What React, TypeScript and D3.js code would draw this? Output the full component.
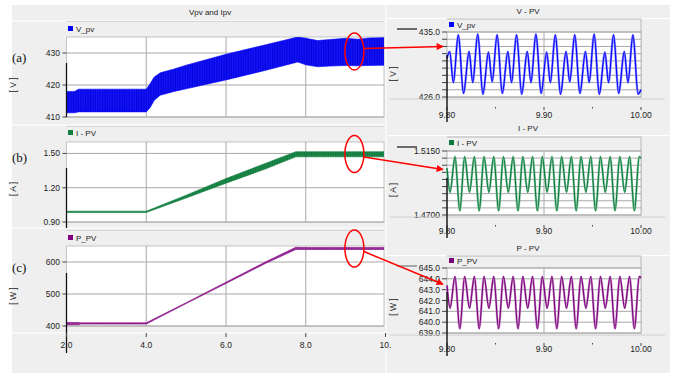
import React, { useEffect, useRef } from "react";
import * as d3 from "d3";

// ---- full run, 2 s .. 10 s ----
const leftXTicks = [2, 4, 6, 8, 10];
const leftXLabels = ["2.0", "4.0", "6.0", "8.0", "10."];

// ripple is too fast at this scale, so each trace shows as a band (upper/lower envelope)
const vTime = [2.0, 2.2, 2.3, 4.0, 4.1, 4.2, 4.35, 4.7, 5.0, 6.0, 7.0, 7.8, 8.0, 8.3, 8.6, 9.0, 9.3, 9.6, 10.0];
const vUpper = [418.0, 418.0, 418.7, 418.7, 420.5, 422.5, 423.8, 425.0, 426.2, 429.6, 432.6, 435.0, 434.6, 433.9, 434.2, 434.6, 434.3, 434.7, 434.8];
const vLower = [411.3, 411.3, 411.6, 411.6, 413.0, 415.2, 416.8, 418.0, 418.8, 421.6, 424.6, 427.2, 426.3, 425.7, 425.9, 426.1, 426.0, 426.1, 426.2];
const vTicks = [410, 420, 430];

const iTime = [2.0, 4.0, 5.0, 6.0, 7.0, 7.75, 8.0, 9.0, 10.0];
const iUpper = [0.995, 0.995, 1.135, 1.28, 1.415, 1.515, 1.515, 1.515, 1.515];
const iLower = [0.983, 0.983, 1.11, 1.24, 1.365, 1.47, 1.47, 1.47, 1.47];
const iTicks = [0.9, 1.2, 1.5];

const pTime = [2.0, 2.3, 2.35, 4.0, 5.0, 6.0, 7.0, 7.75, 8.0, 9.0, 10.0];
const pUpper = [411, 411, 410, 410, 473, 537, 601, 646, 645, 645, 645];
const pLower = [404, 404, 406, 406, 470, 533, 596, 639, 639, 639, 639];
const pTicks = [400, 500, 600];

// ---- zoom 9.80 s .. 10.00 s ----
const zoomXTicks = [9.8, 9.9, 10.0];
const zoomXLabels = ["9.80", "9.90", "10.00"];
const zoomMinor = [9.85, 9.95];

const vzTime = [9.8, 9.8028, 9.8065, 9.8117, 9.817, 9.8228, 9.8265, 9.8317, 9.837, 9.8428, 9.8465, 9.8517, 9.857,
  9.8628, 9.8665, 9.8717, 9.877, 9.8828, 9.8865, 9.8917, 9.897, 9.9028, 9.9065, 9.9117, 9.917, 9.9228, 9.9265,
  9.9317, 9.937, 9.9428, 9.9465, 9.9517, 9.957, 9.9628, 9.9665, 9.9717, 9.977, 9.9828, 9.9865, 9.9917, 9.997, 10.0];
const vzValue = [431.4, 432.3, 428.0, 434.6, 426.5, 432.3, 428.0, 434.7, 426.4, 432.2, 428.1, 434.6, 426.5,
  432.3, 428.0, 434.6, 426.4, 432.3, 428.0, 434.7, 426.5, 432.2, 428.0, 434.6, 426.4, 432.3, 428.1,
  434.6, 426.5, 432.3, 428.0, 434.7, 426.4, 432.2, 428.0, 434.6, 426.5, 432.3, 428.0, 434.6, 426.4, 427.0];
const vzTicks = [426, 427, 428, 429, 430, 431, 432, 433, 434, 435];
const vzLabelled = [426, 435];

const izTime = [9.8, 9.8032, 9.8082, 9.8132, 9.8182, 9.8232, 9.8282, 9.8332, 9.8382, 9.8432, 9.8482, 9.8532, 9.8582,
  9.8632, 9.8682, 9.8732, 9.8782, 9.8832, 9.8882, 9.8932, 9.8982, 9.9032, 9.9082, 9.9132, 9.9182, 9.9232, 9.9282,
  9.9332, 9.9382, 9.9432, 9.9482, 9.9532, 9.9582, 9.9632, 9.9682, 9.9732, 9.9782, 9.9832, 9.9882, 9.9932, 9.9982, 10.0];
const izValue = [1.503, 1.486, 1.511, 1.473, 1.511, 1.486, 1.511, 1.473, 1.511, 1.486, 1.511, 1.473, 1.511,
  1.486, 1.511, 1.473, 1.511, 1.486, 1.511, 1.473, 1.511, 1.486, 1.511, 1.473, 1.511, 1.486, 1.511,
  1.473, 1.511, 1.486, 1.511, 1.473, 1.511, 1.486, 1.511, 1.473, 1.511, 1.486, 1.511, 1.473, 1.511, 1.510];
const izTicks = [1.47, 1.475, 1.48, 1.485, 1.49, 1.495, 1.5, 1.505, 1.51, 1.515];
const izLabelled = [1.47, 1.515];

const pzTime = izTime;
const pzValue = [643.4, 641.3, 644.2, 639.4, 644.2, 641.3, 644.2, 639.4, 644.2, 641.3, 644.2, 639.4, 644.2,
  641.3, 644.2, 639.4, 644.2, 641.3, 644.2, 639.4, 644.2, 641.3, 644.2, 639.4, 644.2, 641.3, 644.2,
  639.4, 644.2, 641.3, 644.2, 639.4, 644.2, 641.3, 644.2, 639.4, 644.2, 641.3, 644.2, 639.4, 644.2, 644.1];
const pzTicks = [639, 640, 641, 642, 643, 644, 645];
const pzLabelled = [639, 640, 641, 642, 643, 644, 645];

const FONT = "'Liberation Sans', Arial, sans-serif";
const LX0 = 66.5, LX1 = 385.5, LCLIP = 384;
const RX0 = 447, RX1 = 641;

function drawLeft(svg: any, p: any) {
  const x = d3.scaleLinear().domain([2, 10]).range([LX0, LX1]);
  const y = d3.scaleLinear().domain(p.domain).range([p.bottom, p.top]);
  const g = svg.append("g");

  g.append("line").attr("x1", LX0).attr("x2", LCLIP).attr("y1", p.top - 15.5).attr("y2", p.top - 15.5).attr("stroke", "#d6d6d6");
  g.append("rect").attr("x", 68).attr("y", p.legendY - 3).attr("width", 5).attr("height", 5).attr("fill", p.color);
  g.append("text").attr("x", 76).attr("y", p.legendY + 3).attr("font-size", 8).attr("font-family", FONT).attr("fill", "#222").text(p.legend);

  g.append("rect").attr("x", LX0).attr("y", p.top).attr("width", LCLIP - LX0).attr("height", p.bottom - p.top)
    .attr("fill", "#fff").attr("stroke", "#c4c4c4");

  // grid
  g.selectAll(".vg").data(leftXTicks.slice(1, 4)).enter().append("line")
    .attr("x1", (d: number) => x(d)).attr("x2", (d: number) => x(d)).attr("y1", p.top).attr("y2", p.bottom)
    .attr("stroke", "#a8a8a8");
  g.selectAll(".hg").data(p.ticks).enter().append("line")
    .attr("x1", LX0).attr("x2", LCLIP).attr("y1", (d: number) => y(d)).attr("y2", (d: number) => y(d))
    .attr("stroke", "#a8a8a8");

  // y ticks
  g.selectAll(".yt").data(p.ticks).enter().append("line")
    .attr("x1", LX0 - 4).attr("x2", LX0).attr("y1", (d: number) => y(d)).attr("y2", (d: number) => y(d)).attr("stroke", "#444");
  g.selectAll(".yl").data(p.ticks).enter().append("text")
    .attr("x", 60).attr("y", (d: number) => y(d) + 3).attr("text-anchor", "end")
    .attr("font-size", 8.5).attr("font-family", FONT).attr("fill", "#222").text((d: number) => p.fmt(d));

  // band
  const clipId = "clip" + p.id;
  g.append("clipPath").attr("id", clipId).append("rect").attr("x", LX0).attr("y", p.top).attr("width", LCLIP - LX0).attr("height", p.bottom - p.top);
  const area = d3.area<number>().x((d, i) => x(p.time[i])).y0((d, i) => y(p.lower[i])).y1((d) => y(d));
  g.append("path").attr("d", area(p.upper)).attr("fill", `url(#pat${p.id})`).attr("stroke", p.color).attr("stroke-width", 0.6).attr("clip-path", `url(#${clipId})`);

  // axis stub
  g.append("line").attr("x1", LX0).attr("x2", LX0).attr("y1", p.stub[0]).attr("y2", p.stub[1]).attr("stroke", "#111").attr("stroke-width", 1.3);

  // tag and unit
  g.append("text").attr("x", 12).attr("y", p.tagY).attr("font-size", 13).attr("font-family", "'Liberation Serif', 'Times New Roman', serif").attr("fill", "#111").text(p.tag);
  g.append("text").attr("transform", `translate(16,${p.unitY}) rotate(-90)`).attr("text-anchor", "middle")
    .attr("font-size", 8.5).attr("font-family", FONT).attr("fill", "#222").text(p.unit);
  return { x, y };
}

function drawRight(svg: any, p: any) {
  const x = d3.scaleLinear().domain([9.8, 10.0]).range([RX0, RX1]);
  const y = d3.scaleLinear().domain(p.domain).range([p.bottom, p.top]);
  const g = svg.append("g");

  g.append("text").attr("x", 528).attr("y", p.titleY + 3).attr("text-anchor", "middle").attr("font-size", 8).attr("font-family", FONT).attr("fill", "#222").text(p.title);
  g.append("line").attr("x1", 387).attr("x2", 670).attr("y1", p.titleY + 7.5).attr("y2", p.titleY + 7.5).attr("stroke", "#fff");

  // legend frame
  g.append("path").attr("d", `M${RX0},${p.frameTop}H${RX1}V${p.bottom}`).attr("fill", "none").attr("stroke", "#b8b8b8");
  g.append("rect").attr("x", 449).attr("y", p.legendY - 3).attr("width", 5).attr("height", 5).attr("fill", p.color);
  g.append("text").attr("x", 457).attr("y", p.legendY + 3).attr("font-size", 8).attr("font-family", FONT).attr("fill", "#222").text(p.legend);

  g.append("rect").attr("x", RX0).attr("y", p.top).attr("width", RX1 - RX0).attr("height", p.bottom - p.top)
    .attr("fill", "#fff").attr("stroke", "#b8b8b8");

  g.selectAll(".hg").data(p.ticks).enter().append("line")
    .attr("x1", RX0).attr("x2", RX1).attr("y1", (d: number) => y(d)).attr("y2", (d: number) => y(d)).attr("stroke", "#a8a8a8");
  g.append("line").attr("x1", x(9.9)).attr("x2", x(9.9)).attr("y1", p.top).attr("y2", p.bottom).attr("stroke", "#a8a8a8");
  g.selectAll(".yt").data(p.ticks).enter().append("line")
    .attr("x1", RX0 - 5).attr("x2", RX0).attr("y1", (d: number) => y(d)).attr("y2", (d: number) => y(d)).attr("stroke", "#444");
  g.selectAll(".yl").data(p.labelled).enter().append("text")
    .attr("x", 440).attr("y", (d: number) => y(d) + 3).attr("text-anchor", "end")
    .attr("font-size", 8.5).attr("font-family", FONT).attr("fill", "#222").text((d: number) => p.fmt(d));

  const line = d3.line<number>().x((d, i) => x(p.time[i])).y((d) => y(d)).curve(d3.curveMonotoneX);
  g.append("path").attr("d", line(p.value)).attr("fill", "none").attr("stroke", p.light).attr("stroke-width", 2.2);
  g.append("path").attr("d", line(p.value)).attr("fill", "none").attr("stroke", p.color).attr("stroke-width", 1.1);

  // x axis
  const axY = p.bottom + 10;
  g.append("line").attr("x1", 390).attr("x2", 665).attr("y1", p.bottom + 2).attr("y2", p.bottom + 2).attr("stroke", "#d0d0d0");
  g.selectAll(".xt").data(zoomXTicks).enter().append("line")
    .attr("x1", (d: number) => x(d)).attr("x2", (d: number) => x(d)).attr("y1", axY).attr("y2", axY + 3).attr("stroke", "#444");
  g.selectAll(".xm").data(zoomMinor).enter().append("line")
    .attr("x1", (d: number) => x(d)).attr("x2", (d: number) => x(d)).attr("y1", axY).attr("y2", axY + 1.5).attr("stroke", "#444");
  g.selectAll(".xl").data(zoomXTicks).enter().append("text")
    .attr("x", (d: number) => x(d)).attr("y", p.xLabelY).attr("text-anchor", "middle")
    .attr("font-size", 8.5).attr("font-family", FONT).attr("fill", "#222").text((d: number, i: number) => zoomXLabels[i]);

  // stubs
  g.append("line").attr("x1", 397).attr("x2", 417).attr("y1", p.hStub).attr("y2", p.hStub).attr("stroke", p.hStubColor).attr("stroke-width", 1.2);
  g.append("line").attr("x1", RX0).attr("x2", RX0).attr("y1", p.vStub[0]).attr("y2", p.vStub[1]).attr("stroke", "#111").attr("stroke-width", 1.4);

  g.append("text").attr("transform", `translate(396,${p.unitY}) rotate(-90)`).attr("text-anchor", "middle")
    .attr("font-size", 8.5).attr("font-family", FONT).attr("fill", "#222").text(p.unit);
  return { x, y };
}

export default function App() {
  const ref = useRef<SVGSVGElement>(null);

  useEffect(() => {
    const svg = d3.select(ref.current);
    svg.selectAll("*").remove();

    const defs = svg.append("defs");
    const pats = [["a", "#1414ff", "#0000c8"], ["b", "#1f8f4e", "#0b6a34"], ["c", "#8a1a8a", "#b050b0"]];
    pats.forEach(([id, fill, stripe]) => {
      const pt = defs.append("pattern").attr("id", "pat" + id).attr("patternUnits", "userSpaceOnUse").attr("width", 1.7).attr("height", 10);
      pt.append("rect").attr("width", 1.7).attr("height", 10).attr("fill", fill);
      pt.append("rect").attr("width", 0.6).attr("height", 10).attr("fill", stripe);
    });
    const marker = defs.append("marker").attr("id", "arrow").attr("viewBox", "0 0 10 10").attr("refX", 9).attr("refY", 5)
      .attr("markerWidth", 9).attr("markerHeight", 7).attr("markerUnits", "userSpaceOnUse").attr("orient", "auto");
    marker.append("path").attr("d", "M0,0L10,5L0,10z").attr("fill", "#ff0000");

    // backgrounds
    svg.append("rect").attr("width", 675).attr("height", 373).attr("fill", "#fff");
    svg.append("rect").attr("x", 12).attr("y", 5).attr("width", 658).attr("height", 368).attr("fill", "#efefef");
    svg.append("line").attr("x1", 386).attr("x2", 386).attr("y1", 5).attr("y2", 373).attr("stroke", "#fff");
    [21, 125, 228, 333].forEach((yy) => svg.append("line").attr("x1", 12).attr("x2", 386).attr("y1", yy).attr("y2", yy).attr("stroke", "#fff"));
    svg.append("text").attr("x", 210).attr("y", 15).attr("text-anchor", "middle").attr("font-size", 8).attr("font-family", FONT).attr("fill", "#222").text("Vpv and Ipv");

    const A = drawLeft(svg, { id: "a", domain: [410, 435], top: 37, bottom: 117, legendY: 29, color: "#0000ff", legend: "V_pv",
      ticks: vTicks, fmt: (d: number) => d3.format("d")(d), time: vTime, upper: vUpper, lower: vLower, stub: [63, 117],
      tag: "(a)", tagY: 62, unit: "[ V ]", unitY: 85 });
    const B = drawLeft(svg, { id: "b", domain: [0.9, 1.6], top: 142, bottom: 222, legendY: 133, color: "#138043", legend: "I - PV",
      ticks: iTicks, fmt: d3.format(".2f"), time: iTime, upper: iUpper, lower: iLower, stub: [168, 228],
      tag: "(b)", tagY: 162, unit: "[ A ]", unitY: 189 });
    const C = drawLeft(svg, { id: "c", domain: [400, 650], top: 246, bottom: 326, legendY: 238, color: "#800080", legend: "P_PV",
      ticks: pTicks, fmt: d3.format("d"), time: pTime, upper: pUpper, lower: pLower, stub: [273, 353],
      tag: "(c)", tagY: 272, unit: "[ W ]", unitY: 296 });

    // left x axis
    svg.selectAll(".lxt").data(leftXTicks).enter().append("line")
      .attr("x1", (d: number) => A.x(d)).attr("x2", (d: number) => A.x(d)).attr("y1", 333).attr("y2", 337).attr("stroke", "#444");
    svg.selectAll(".lxl").data(leftXTicks).enter().append("text")
      .attr("x", (d: number) => A.x(d)).attr("y", 348).attr("text-anchor", "middle")
      .attr("font-size", 8.5).attr("font-family", FONT).attr("fill", "#222").text((d: number, i: number) => leftXLabels[i]);

    const RA = drawRight(svg, { domain: [426, 435], top: 32, bottom: 97, frameTop: 19, legendY: 25, titleY: 11, title: "V - PV",
      color: "#0000ff", light: "#8080ff", legend: "V_pv", ticks: vzTicks, labelled: vzLabelled, fmt: d3.format(".1f"),
      time: vzTime, value: vzValue, xLabelY: 118, hStub: 29, hStubColor: "#111", vStub: [55, 122], unit: "[ V ]", unitY: 74 });
    const RB = drawRight(svg, { domain: [1.47, 1.515], top: 151, bottom: 215, frameTop: 137, legendY: 143, titleY: 128, title: "I - PV",
      color: "#0a7a3c", light: "#7fc09a", legend: "I - PV", ticks: izTicks, labelled: izLabelled, fmt: d3.format(".4f"),
      time: izTime, value: izValue, xLabelY: 234, hStub: 147, hStubColor: "#111", vStub: [178, 238], unit: "[ A ]", unitY: 190 });
    const RC = drawRight(svg, { domain: [639, 645], top: 268, bottom: 333, frameTop: 256, legendY: 261, titleY: 248, title: "P - PV",
      color: "#7a007a", light: "#c080c0", legend: "P_PV", ticks: pzTicks, labelled: pzLabelled, fmt: d3.format(".1f"),
      time: pzTime, value: pzValue, xLabelY: 352, hStub: 266, hStubColor: "#777", vStub: [292, 356], unit: "[ W ]", unitY: 307 });

    // red call-outs: ellipse on the steady-state band, arrow into the zoom
    const calls = [
      { L: A, R: RA, v: 430.5, tipV: 433, from: 0 },
      { L: B, R: RB, v: 1.495, tipV: 1.502, from: 6 },
      { L: C, R: RC, v: 642, tipV: 643.5, from: 6 },
    ];
    calls.forEach((c) => {
      const cx = c.L.x(9.22), cy = c.L.y(c.v);
      svg.append("ellipse").attr("cx", cx).attr("cy", cy).attr("rx", 9.5).attr("ry", 18.5)
        .attr("fill", "none").attr("stroke", "#ff0000").attr("stroke-width", 1.5);
      svg.append("line").attr("x1", cx + 9.5).attr("y1", cy - 3 + c.from).attr("x2", c.R.x(9.8) - 4).attr("y2", c.R.y(c.tipV))
        .attr("stroke", "#ff0000").attr("stroke-width", 1.5).attr("marker-end", "url(#arrow)");
    });
  }, []);

  return (
    <svg ref={ref} width={675} height={373} style={{ position: "absolute", left: 0, top: 0 }} />
  );
}
